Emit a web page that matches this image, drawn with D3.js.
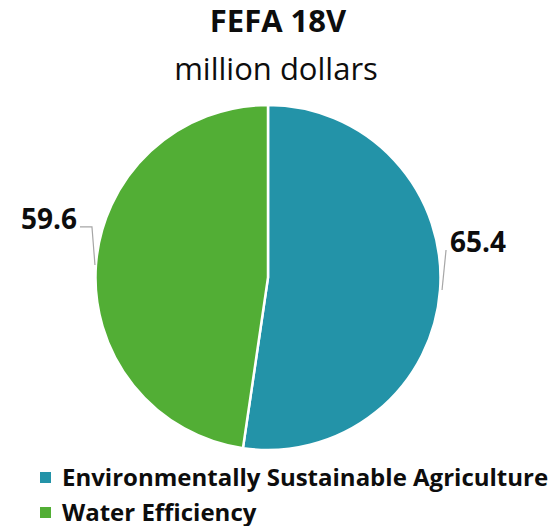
<!DOCTYPE html>
<html>
<head>
<meta charset="utf-8">
<script src="https://cdn.jsdelivr.net/npm/d3@7"></script>
<style>
  html, body { margin: 0; padding: 0; background: #fff; }
  svg { display: block; }
  text { font-family: "Open Sans", "Noto Sans", sans-serif; fill: #0d0d0d; }
</style>
</head>
<body>
<div id="chart"></div>
<script>
// FEFA 18V funding split, million dollars
const categories = ["Environmentally Sustainable Agriculture", "Water Efficiency"];
const values = [65.4, 59.6];
const valueLabels = ["65.4", "59.6"];
const colors = ["#2393a8", "#52ae35"];

const width = 555, height = 526;
const cx = 268, cy = 277.5, radius = 172.5;

const svg = d3.select("#chart").append("svg")
  .attr("width", width).attr("height", height);

// Titles
svg.append("text")
  .attr("x", 278).attr("y", 32)
  .attr("text-anchor", "middle")
  .attr("font-size", 31).attr("font-weight", 700)
  .text("FEFA 18V");
svg.append("text")
  .attr("x", 276).attr("y", 80)
  .attr("text-anchor", "middle")
  .attr("font-size", 31)
  .text("million dollars");

const data = categories.map((c, i) => ({ category: c, value: values[i], label: valueLabels[i], color: colors[i] }));

const pie = d3.pie().sort(null).value(d => d.value).startAngle(0).endAngle(2 * Math.PI);
const arcs = pie(data);
const arc = d3.arc().innerRadius(0).outerRadius(radius);

const g = svg.append("g").attr("transform", `translate(${cx},${cy})`);

g.selectAll("path.slice")
  .data(arcs)
  .join("path")
  .attr("class", "slice")
  .attr("d", arc)
  .attr("fill", d => d.data.color)
  .attr("stroke", "#fff")
  .attr("stroke-width", 2.5);

// Point on the rim at a slice's middle angle
function rim(d, r) {
  const a = (d.startAngle + d.endAngle) / 2;
  return [r * Math.sin(a), -r * Math.cos(a)];
}

// Leader lines and value labels
arcs.forEach(d => {
  const [px, py] = rim(d, radius);
  const right = px > 0;
  let pts, tx, ty, anchor;
  if (right) {
    pts = [[px + 2, py], [px + 6, py - 40]];
    tx = px + 10; ty = py - 38; anchor = "start";
  } else {
    pts = [[px - 1, py], [px - 4, py - 38], [px - 16, py - 38]];
    tx = px - 19; ty = py - 36; anchor = "end";
  }
  g.append("polyline")
    .attr("points", pts.map(p => p.join(",")).join(" "))
    .attr("fill", "none")
    .attr("stroke", "#a6a6a6")
    .attr("stroke-width", 1.2);
  g.append("text")
    .attr("x", tx).attr("y", ty)
    .attr("text-anchor", anchor)
    .attr("font-size", 28).attr("font-weight", 700)
    .text(d.data.label);
});

// Legend
const legend = svg.append("g").attr("transform", "translate(40,472)");
const rows = legend.selectAll("g").data(data).join("g")
  .attr("transform", (d, i) => `translate(0,${i * 35})`);
rows.append("rect")
  .attr("width", 11).attr("height", 11)
  .attr("fill", d => d.color);
rows.append("text")
  .attr("x", 22).attr("y", 13.5)
  .attr("font-size", 24).attr("font-weight", 700)
  .text(d => d.category);
</script>
</body>
</html>
